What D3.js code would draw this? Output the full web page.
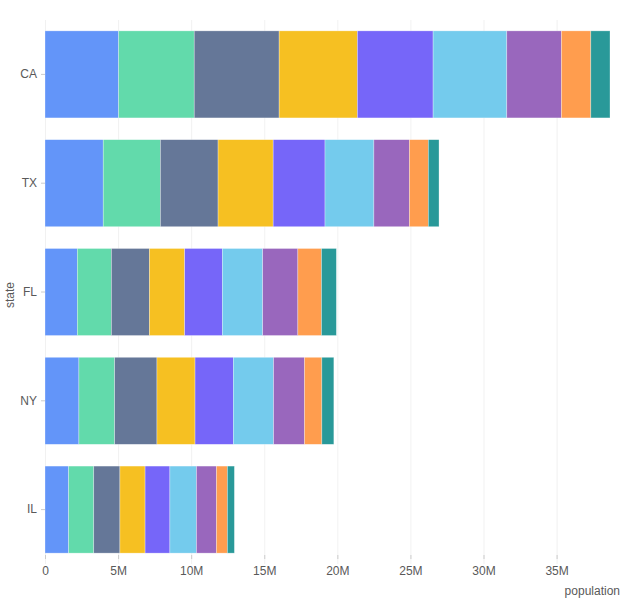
<!DOCTYPE html>
<html><head><meta charset="utf-8">
<script src="https://cdn.jsdelivr.net/npm/d3@7"></script>
<style>body{margin:0;background:#fff;font-family:"Liberation Sans",Arial,sans-serif;}</style>
</head><body><svg id="c" width="640" height="600"></svg>
<script>
const states = ["CA","TX","FL","NY","IL"];
const ages = ["<10","10-19","20-29","30-39","40-49","50-59","60-69","70-79","≥80"];
const CA = [5038433,5170341,5809455,5354112,5179258,5042094,3737461,2011678,1311374];
const TX = [3983091,3910528,3946447,3770534,3545746,3344930,2431494,1291486,732179];
const FL = [2211012,2331102,2597830,2416176,2575576,2762983,2404659,1615547,1019566];
const NY = [2319945,2445591,2894266,2605355,2617327,2755620,2117733,1186080,819685];
const IL = [1619682,1715984,1789739,1721954,1697069,1817336,1370462,745131,479954];
const colors = ["#5B8FF9","#5AD8A6","#5D7092","#F6BD16","#6F5EF9","#6DC8EC","#945FB9","#FF9845","#1E9493"];
const xTicks = [0,5e6,10e6,15e6,20e6,25e6,30e6,35e6];

const values = {CA, TX, FL, NY, IL};
const rows = states.map(s => { const o = {state: s}; ages.forEach((a,i) => o[a] = values[s][i]); return o; });
const series = d3.stack().keys(ages)(rows);

const svg = d3.select("#c");
const ml = 45, mr = 610, mt = 20, mb = 564;
const x = d3.scaleLinear().domain([0, d3.max(states, s => d3.sum(values[s]))]).range([ml, mr]);
const y = d3.scaleBand().domain(states).range([mt, mb]).paddingInner(0.2).paddingOuter(0.1);
const color = d3.scaleOrdinal().domain(ages).range(colors);

// grid
svg.append("g").selectAll("line").data(xTicks).join("line")
  .attr("x1", d => x(d)+0.5).attr("x2", d => x(d)+0.5)
  .attr("y1", mt).attr("y2", mb).attr("stroke", "#e8e8e8").attr("stroke-opacity", 0.6);

svg.append("g").selectAll("g").data(series).join("g")
  .attr("fill", d => color(d.key))
  .selectAll("rect").data(d => d).join("rect")
  .attr("x", d => x(d[0])).attr("width", d => x(d[1]) - x(d[0]))
  .attr("y", d => y(d.data.state)).attr("height", y.bandwidth())
  .attr("fill-opacity", 0.95).attr("stroke", "#fff").attr("stroke-width", 0.6).attr("stroke-opacity", 0.5);

// x axis
const xa = svg.append("g").attr("transform", `translate(0,${mb-9})`)
  .call(d3.axisBottom(x).tickValues(xTicks).tickSize(4).tickPadding(7).tickFormat(d => d === 0 ? "0" : (d/1e6) + "M"));
xa.select(".domain").remove();
xa.selectAll("line").attr("stroke", "#ccc");
xa.selectAll("text").attr("fill", "#595959").attr("font-size", 12).attr("font-family", "Liberation Sans, Arial, sans-serif");

const ya = svg.append("g").attr("transform", `translate(${ml},0)`)
  .call(d3.axisLeft(y).tickSize(4).tickPadding(4));
ya.select(".domain").remove();
ya.selectAll("line").attr("stroke", "#ccc");
ya.selectAll("text").attr("fill", "#595959").attr("font-size", 12).attr("font-family", "Liberation Sans, Arial, sans-serif");

svg.append("text").attr("x", 620).attr("y", 595).attr("text-anchor", "end")
  .attr("fill", "#595959").attr("font-size", 12).text("population");
svg.append("text").attr("transform", "translate(14,295) rotate(-90)").attr("text-anchor", "middle")
  .attr("fill", "#595959").attr("font-size", 12).text("state");
</script></body></html>
